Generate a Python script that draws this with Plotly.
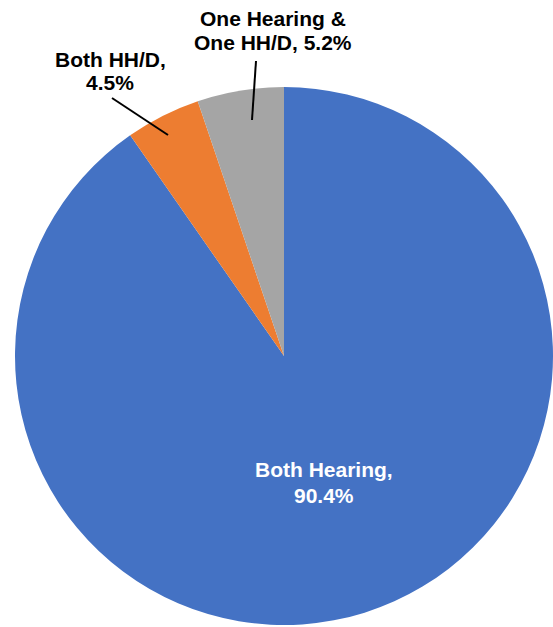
import plotly.graph_objects as go

# Data
categories = ["Both Hearing", "Both HH/D", "One Hearing & One HH/D"]
values = [90.4, 4.5, 5.2]
colors = ["#4472C4", "#ED7D31", "#A5A5A5"]
label_lines = [
    ["Both Hearing,", "{v}%"],
    ["Both HH/D,", "{v}%"],
    ["One Hearing &", "One HH/D, {v}%"],
]

W, H = 553, 627
cx, cy, R = 284, 356, 269


def px(x):
    return x / W


def py(y):
    return 1 - y / H


fig = go.Figure(
    go.Pie(
        labels=categories,
        values=values,
        marker=dict(colors=colors, line=dict(width=0)),
        sort=False,
        direction="clockwise",
        rotation=0,
        textinfo="none",
        hoverinfo="label+percent",
        domain=dict(x=[px(cx - R), min(1, px(cx + R))], y=[py(cy + R), py(cy - R)]),
        showlegend=False,
    )
)

# Label placements: x center and per-line y centers (pixels)
label_x = [324, 110, 272.5]
label_y = [(469.5, 496), (59, 83), (19, 43)]
label_col = ["white", "black", "black"]
font_fam = "Arial, Liberation Sans, Helvetica, sans-serif"
for lines, v, x, ys, col in zip(label_lines, values, label_x, label_y, label_col):
    for ln, y in zip(lines, ys):
        fig.add_annotation(
            x=px(x), y=py(y), xref="paper", yref="paper",
            text="<b>" + ln.format(v=v) + "</b>", showarrow=False,
            xanchor="center", yanchor="middle",
            font=dict(family=font_fam, size=21, color=col), align="center",
        )

# Leader lines
leaders = [((112, 98), (168, 135)), ((256, 61), (252, 120))]
for (x0, y0), (x1, y1) in leaders:
    fig.add_shape(
        type="line", xref="paper", yref="paper",
        x0=px(x0), y0=py(y0), x1=px(x1), y1=py(y1),
        line=dict(color="black", width=2),
    )

fig.update_layout(
    width=W, height=H,
    margin=dict(l=0, r=0, t=0, b=0),
    paper_bgcolor="white", plot_bgcolor="white",
)

fig.write_html("out.html")
